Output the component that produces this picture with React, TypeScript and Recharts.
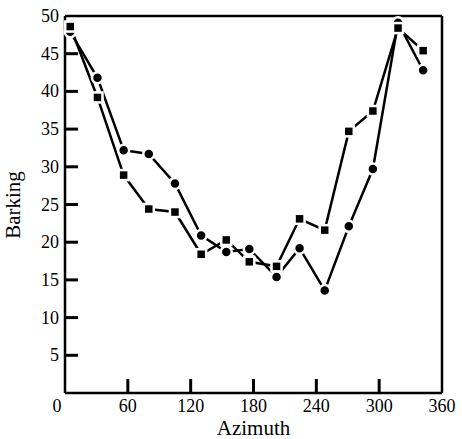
import { Line, LineChart, ReferenceLine, XAxis, YAxis } from 'recharts';

const azimuth = [5, 31, 56, 80, 105, 130, 154, 176, 202, 224, 248, 271, 294, 318, 342];
const circleSeries = [47.9, 41.8, 32.2, 31.7, 27.8, 20.9, 18.7, 19.1, 15.4, 19.2, 13.6, 22.1, 29.7, 49.1, 42.8];
const squareSeries = [48.6, 39.2, 28.9, 24.4, 24.0, 18.4, 20.3, 17.4, 16.8, 23.1, 21.6, 34.7, 37.4, 48.4, 45.4];
const xTicks = [0, 60, 120, 180, 240, 300, 360];
const yTicks = [5, 10, 15, 20, 25, 30, 35, 40, 45, 50];

const data = azimuth.map((a, i) => ({ azimuth: a, circle: circleSeries[i], square: squareSeries[i] }));

const FONT = '"Liberation Serif", "DejaVu Serif", serif';

// ticks point into the plot, labels stay outside
function XTick({ x, y, payload }: any) {
  const v = payload.value;
  return (
    <g>
      {v > 0 && v < 360 && <line x1={x} y1={y} x2={x} y2={y - 14} stroke="#000" strokeWidth={3} />}
      <text x={v === 0 ? x - 8 : x} y={y + 19} textAnchor="middle" fontSize={18} fontFamily={FONT} fill="#000">
        {v}
      </text>
    </g>
  );
}

function YTick({ x, y, payload }: any) {
  return (
    <g>
      {payload.value < 50 && <line x1={x} y1={y} x2={x + 13} y2={y} stroke="#000" strokeWidth={3} />}
      <text x={x - 6} y={y + 6} textAnchor="end" fontSize={18} fontFamily={FONT} fill="#000">
        {payload.value}
      </text>
    </g>
  );
}

function CircleDot({ cx, cy }: any) {
  return <circle cx={cx} cy={cy} r={5.5} fill="#000" stroke="#fff" strokeWidth={2.5} />;
}

function SquareDot({ cx, cy }: any) {
  return <rect x={cx - 5} y={cy - 5} width={10} height={10} fill="#000" stroke="#fff" strokeWidth={2.5} />;
}

export default function App() {
  return (
    <div style={{ position: 'absolute', left: 0, top: 0, background: '#fff' }}>
      <LineChart width={462} height={439} data={data} margin={{ top: 16, right: 20, bottom: 0, left: 0 }}>
        <XAxis
          type="number"
          dataKey="azimuth"
          domain={[0, 360]}
          ticks={xTicks}
          interval={0}
          height={46}
          tickSize={0}
          tickMargin={0}
          tickLine={false}
          tick={<XTick />}
          axisLine={{ stroke: '#000', strokeWidth: 2.5 }}
          label={{ value: 'Azimuth', position: 'insideBottom', offset: 4, fontSize: 21, fontFamily: FONT, fill: '#000' }}
        />
        <YAxis
          type="number"
          domain={[0, 50]}
          ticks={yTicks}
          interval={0}
          width={65}
          tickSize={0}
          tickMargin={0}
          tickLine={false}
          tick={<YTick />}
          axisLine={{ stroke: '#000', strokeWidth: 2.5 }}
          label={{
            content: () => (
              <text x={20} y={205} transform="rotate(-90 20 205)" textAnchor="middle" fontSize={21} fontFamily={FONT} fill="#000">
                Barking
              </text>
            ),
          }}
        />
        <ReferenceLine y={50} stroke="#000" strokeWidth={2.5} />
        <ReferenceLine x={360} stroke="#000" strokeWidth={2.5} />
        <Line
          type="linear"
          dataKey="circle"
          stroke="#000"
          strokeWidth={2.5}
          dot={<CircleDot />}
          activeDot={false}
          isAnimationActive={false}
        />
        <Line
          type="linear"
          dataKey="square"
          stroke="#000"
          strokeWidth={2.5}
          dot={<SquareDot />}
          activeDot={false}
          isAnimationActive={false}
        />
      </LineChart>
    </div>
  );
}
